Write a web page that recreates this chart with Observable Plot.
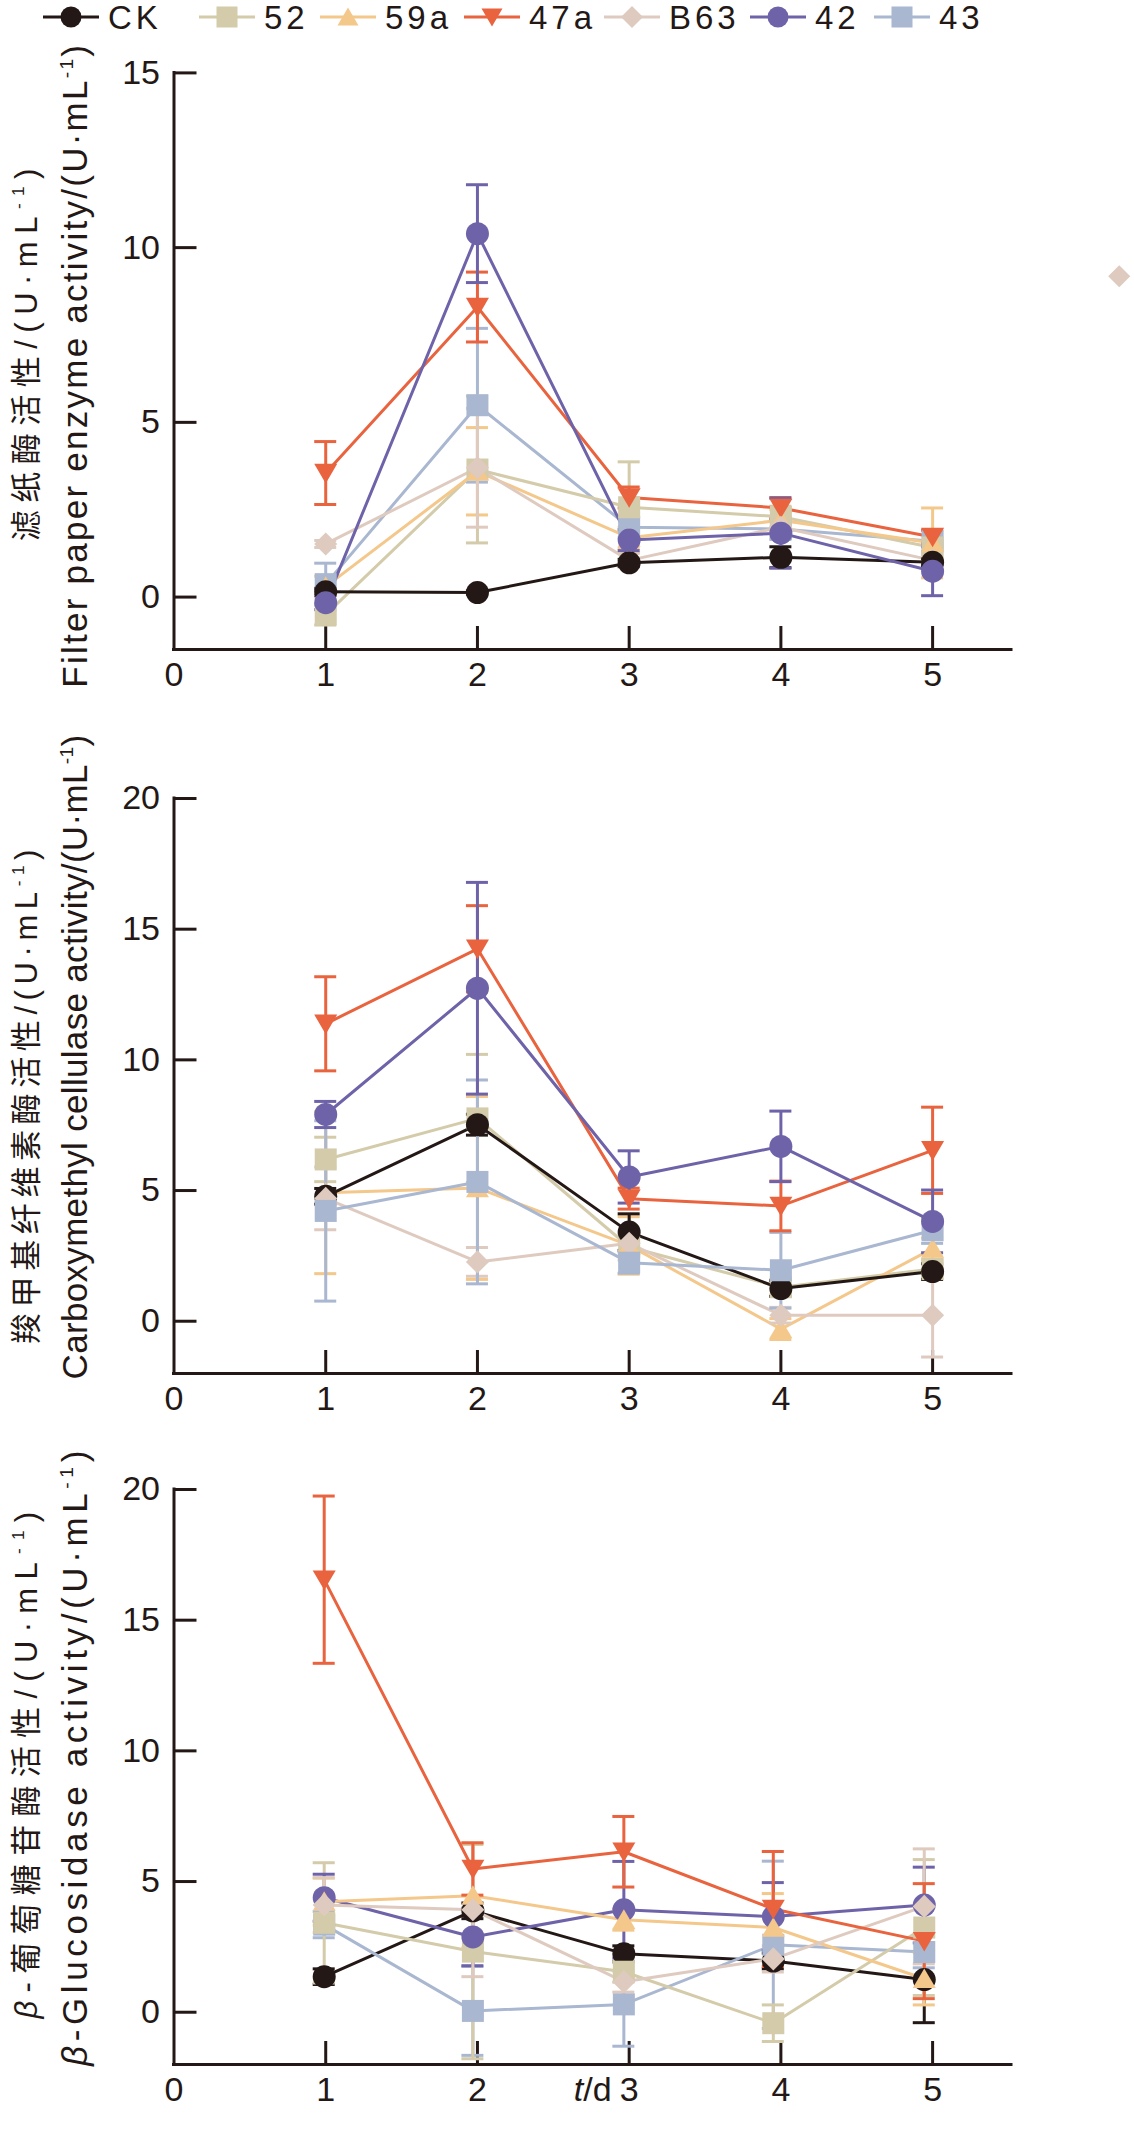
<!DOCTYPE html>
<html>
<head>
<meta charset="utf-8">
<script src="https://cdn.jsdelivr.net/npm/d3@7"></script>
<script src="https://cdn.jsdelivr.net/npm/@observablehq/plot@0.6"></script>
<style>
  html, body { margin: 0; padding: 0; background: #fff; }
  #root { position: relative; width: 1134px; height: 2146px; overflow: hidden; background: #fff; }
  .panel { position: absolute; left: 0; }
  .legend-item { position: absolute; top: 1px; height: 34px; display: flex; align-items: center; }
  .legend-item span { margin-left: 9px; font-size: 33px; line-height: 34px; letter-spacing: 4px; color: #231815; white-space: nowrap; }
</style>
</head>
<body>
<div id="root"></div>
<script>
// ---------------- data ----------------
const seriesNames  = ["CK", "52", "59a", "47a", "B63", "42", "43"];
const seriesColors = ["#231815", "#d3cba9", "#f4c78b", "#e8633e", "#dfcabf", "#6e63a9", "#a9b7d1"];

const days        = [1, 2, 3, 4, 5];
const daysPanel3  = [0.99, 1.97, 2.965, 3.95, 4.945];
const xTicks      = [0, 1, 2, 3, 4, 5];

// Filter paper enzyme activity (rows: CK, 52, 59a, 47a, B63, 42, 43)
const fpaMean = [
  [0.15, 0.13, 0.98, 1.14, 1.00],
  [-0.50, 3.65, 2.57, 2.30, 1.42],
  [0.30, 3.60, 1.70, 2.20, 1.55],
  [3.55, 8.30, 2.85, 2.55, 1.72],
  [1.52, 3.70, 1.05, 2.00, 1.05],
  [-0.16, 10.40, 1.63, 1.83, 0.74],
  [0.37, 5.49, 2.00, 1.95, 1.60]
];
const fpaErr = [
  [0.10, 0.05, 0.10, 0.30, 0.10],
  [0.30, 2.10, 1.30, 0.30, 0.20],
  [0.30, 1.25, 0.30, 0.30, 1.00],
  [0.90, 1.00, 0.30, 0.30, 0.20],
  [0.10, 1.70, 0.20, 0.30, 0.20],
  [0.20, 1.40, 0.30, 1.00, 0.70],
  [0.60, 2.20, 0.30, 0.30, 0.30]
];
const fpaStrayB63 = [{x: 6.23, y: 9.18}];
const fpaTicks = [0, 5, 10, 15];
const fpaDomain = [-1.5, 15];

// Carboxymethyl cellulase activity
const cmcMean = [
  [4.78, 7.52, 3.41, 1.25, 1.90],
  [6.19, 7.76, 2.84, 1.30, 2.00],
  [4.92, 5.10, 2.90, -0.30, 2.78],
  [11.38, 14.25, 4.69, 4.41, 6.54],
  [4.70, 2.27, 2.98, 0.23, 0.23],
  [7.91, 12.74, 5.52, 6.69, 3.82],
  [4.22, 5.33, 2.24, 1.95, 3.48]
];
const cmcErr = [
  [0.30, 0.40, 0.70, 0.30, 0.30],
  [0.85, 2.45, 0.50, 0.30, 0.30],
  [3.10, 3.50, 1.10, 0.40, 0.40],
  [1.80, 1.65, 0.40, 0.95, 1.65],
  [1.20, 0.55, 0.30, 0.30, 1.60],
  [0.50, 4.05, 1.00, 1.35, 1.20],
  [3.45, 3.90, 0.40, 1.45, 0.50]
];
const cmcTicks = [0, 5, 10, 15, 20];
const cmcDomain = [-2, 20];

// beta-Glucosidase activity
const bgMean = [
  [1.36, 3.88, 2.24, 1.96, 1.25],
  [3.42, 2.32, 1.55, -0.42, 3.24],
  [4.23, 4.46, 3.54, 3.24, 1.28],
  [16.55, 5.48, 6.14, 3.95, 2.72],
  [4.10, 3.92, 1.17, 2.04, 4.05],
  [4.38, 2.88, 3.92, 3.66, 4.10],
  [3.35, 0.05, 0.30, 2.58, 2.30]
];
const bgErr = [
  [0.30, 0.30, 0.30, 0.30, 1.65],
  [2.30, 4.10, 0.40, 0.70, 2.60],
  [0.90, 2.00, 0.40, 1.30, 1.00],
  [3.20, 1.00, 1.35, 2.20, 2.20],
  [1.05, 2.56, 0.40, 0.50, 2.20],
  [0.90, 1.10, 1.85, 1.30, 1.45],
  [0.50, 1.70, 1.60, 3.20, 0.60]
];
const bgTicks = [0, 5, 10, 15, 20];
const bgDomain = [-2, 20];

// ---------------- styles ----------------
const ink = "#231815";
const FONT = "'Liberation Sans', Arial, Helvetica, 'Noto Sans CJK SC', sans-serif";
const xDomain = [0, 5.52];

const symSquare = {draw(ctx, size) { const a = Math.sqrt(size / Math.PI); ctx.moveTo(-a, -a); ctx.lineTo(a, -a); ctx.lineTo(a, a); ctx.lineTo(-a, a); ctx.closePath(); }};
const symTriUp = {draw(ctx, size) { const a = Math.sqrt(size / Math.PI); ctx.moveTo(0, -0.9 * a); ctx.lineTo(a, 0.8 * a); ctx.lineTo(-a, 0.8 * a); ctx.closePath(); }};
const symTriDown = {draw(ctx, size) { const a = Math.sqrt(size / Math.PI); ctx.moveTo(0, 0.9 * a); ctx.lineTo(a, -0.8 * a); ctx.lineTo(-a, -0.8 * a); ctx.closePath(); }};
const symDiamond = {draw(ctx, size) { const a = 1.05 * Math.sqrt(size / Math.PI); ctx.moveTo(0, -a); ctx.lineTo(a, 0); ctx.lineTo(0, a); ctx.lineTo(-a, 0); ctx.closePath(); }};
const seriesSymbols = [d3.symbolCircle, symSquare, symTriUp, symTriDown, symDiamond, d3.symbolCircle, symSquare];
const seriesR = [11.5, 11, 11.5, 11.5, 11, 11.5, 11];

const labelTargetLength = new Map();

function makePanel(cfg) {
  const rows = seriesNames.map((name, s) => cfg.xs.map((x, i) => ({name, x, y: cfg.mean[s][i], e: cfg.err[s][i]})));
  const [y0, y1] = cfg.yDomain;
  const marks = [
    Plot.ruleY([y0], {x1: xDomain[0], x2: xDomain[1], stroke: ink, strokeWidth: 3, strokeLinecap: "square"}),
    Plot.ruleX([xDomain[0]], {y1: y0, y2: y1, stroke: ink, strokeWidth: 3, strokeLinecap: "square"}),
    Plot.ruleY(cfg.yTicks, {y: d => d, x1: xDomain[0], x2: xDomain[0], insetRight: -23, stroke: ink, strokeWidth: 3}),
    Plot.ruleX(xTicks.filter(d => d > 0), {x: d => d, y1: y0, y2: y0, insetBottom: 23, stroke: ink, strokeWidth: 3}),
    Plot.axisY({ticks: cfg.yTicks, tickSize: 0, tickPadding: 14, label: null, fontSize: 34, tickFormat: d => String(d)}),
    Plot.axisX({ticks: xTicks, tickSize: 0, tickPadding: 12, label: null, fontSize: 34, tickFormat: d => String(d)})
  ];
  cfg.order.forEach(s => {
    const c = seriesColors[s];
    marks.push(Plot.ruleX(rows[s], {x: "x", y1: d => d.y - d.e, y2: d => d.y + d.e, stroke: c, strokeWidth: 3}));
    marks.push(Plot.ruleY(rows[s], {y: d => d.y + d.e, x1: "x", x2: "x", insetLeft: -11, insetRight: -11, stroke: c, strokeWidth: 3}));
    marks.push(Plot.ruleY(rows[s], {y: d => d.y - d.e, x1: "x", x2: "x", insetLeft: -11, insetRight: -11, stroke: c, strokeWidth: 3}));
    marks.push(Plot.line(rows[s], {x: "x", y: "y", stroke: c, strokeWidth: 3}));
  });
  cfg.order.forEach(s => {
    marks.push(Plot.dot(rows[s], {x: "x", y: "y", symbol: seriesSymbols[s], r: seriesR[s], fill: seriesColors[s]}));
  });
  if (cfg.stray) {
    marks.push(Plot.dot(cfg.stray, {x: "x", y: "y", symbol: symDiamond, r: 10.5, fill: seriesColors[4]}));
  }
  labelTargetLength.set(cfg.labelCn, cfg.lenCn);
  labelTargetLength.set(cfg.labelEn, cfg.lenEn);
  marks.push(Plot.text([cfg.labelCn], {text: d => d, frameAnchor: "left", textAnchor: "middle", rotate: -90, dx: -147, dy: cfg.dyCn, fontSize: 31, fill: ink}));
  marks.push(Plot.text([cfg.labelEn], {text: d => d, frameAnchor: "left", textAnchor: "middle", rotate: -90, dx: -98, dy: cfg.dyEn, fontSize: 35, fill: ink}));
  if (cfg.xLabel) {
    marks.push(Plot.text([cfg.xLabel], {text: d => d, frameAnchor: "bottom", lineAnchor: "top", dy: 12, fontSize: 34, fill: ink}));
  }
  const svg = Plot.plot({
    width: 1134,
    height: cfg.height,
    marginLeft: 173.5,
    marginRight: 123,
    marginTop: cfg.marginTop,
    marginBottom: cfg.marginBottom,
    x: {domain: xDomain},
    y: {domain: cfg.yDomain},
    style: {fontFamily: FONT, fontSize: "34px", color: ink, background: "none", overflow: "visible"},
    marks
  });
  svg.classList.add("panel");
  svg.style.top = cfg.top + "px";
  return svg;
}

// italic symbols, superscript exponent, and fitted letter-spacing for the axis titles
function richText(svg) {
  d3.select(svg).selectAll("text").each(function () {
    const t = this.textContent;
    const sup = t.indexOf("⁻¹");
    const beta = t.startsWith("β");
    const td = t === "t/d";
    if (sup < 0 && !beta && !td) return;
    const fs = parseFloat(getComputedStyle(this).fontSize) || 30;
    const el = d3.select(this);
    el.text(null);
    if (td) {
      el.append("tspan").attr("font-style", "italic").text("t");
      el.append("tspan").text("/d");
      return;
    }
    let rest = t;
    if (beta) { el.append("tspan").attr("font-style", "italic").text("β"); rest = rest.slice(1); }
    const i = rest.indexOf("⁻¹");
    if (i >= 0) {
      el.append("tspan").text(rest.slice(0, i));
      el.append("tspan").attr("font-size", fs * 0.55).attr("dy", -fs * 0.42).text("-1");
      el.append("tspan").attr("dy", fs * 0.42).text(rest.slice(i + 2));
    } else {
      el.append("tspan").text(rest);
    }
    const target = labelTargetLength.get(t);
    if (target) {
      const len = this.getComputedTextLength();
      const n = this.getNumberOfChars();
      const ls = (target - len) / n;
      this.style.letterSpacing = ls.toFixed(2) + "px";
    }
  });
}

const root = document.getElementById("root");

// legend
const legendX = [43, 199, 320, 464, 604, 750, 874];
seriesNames.forEach((name, s) => {
  const item = d3.select(root).append("div").attr("class", "legend-item").style("left", legendX[s] + "px").style("font-family", FONT);
  const sv = item.append("svg").attr("width", 56).attr("height", 34);
  sv.append("line").attr("x1", 0).attr("x2", 56).attr("y1", 16).attr("y2", 16).attr("stroke", seriesColors[s]).attr("stroke-width", 3);
  const p = d3.path();
  seriesSymbols[s].draw(p, Math.PI * 10.5 * 10.5);
  sv.append("path").attr("transform", "translate(28,16)").attr("d", p.toString()).attr("fill", seriesColors[s]);
  item.append("span").text(name);
});

const panels = [
  makePanel({mean: fpaMean, err: fpaErr, xs: days, yDomain: fpaDomain, yTicks: fpaTicks, stray: fpaStrayB63,
    order: [6, 1, 2, 3, 4, 0, 5],
    labelCn: "滤纸酶活性/(U·mL⁻¹)", labelEn: "Filter paper enzyme activity/(U·mL⁻¹)",
    lenCn: 380, lenEn: 645, dyCn: -10, dyEn: 4,
    top: 36, height: 684, marginTop: 36.4, marginBottom: 71}),
  makePanel({mean: cmcMean, err: cmcErr, xs: days, yDomain: cmcDomain, yTicks: cmcTicks,
    order: [1, 2, 0, 4, 6, 3, 5],
    labelCn: "羧甲基纤维素酶活性/(U·mL⁻¹)", labelEn: "Carboxymethyl cellulase activity/(U·mL⁻¹)",
    lenCn: 500, lenEn: 645, dyCn: 8, dyEn: -29,
    top: 720, height: 710, marginTop: 78, marginBottom: 57}),
  makePanel({mean: bgMean, err: bgErr, xs: daysPanel3, yDomain: bgDomain, yTicks: bgTicks,
    order: [0, 6, 1, 5, 2, 4, 3],
    labelCn: "β-葡萄糖苷酶活性/(U·mL⁻¹)", labelEn: "β-Glucosidase activity/(U·mL⁻¹)",
    lenCn: 515, lenEn: 620, dyCn: -16, dyEn: -21, xLabel: "t/d",
    top: 1430, height: 716, marginTop: 59, marginBottom: 82})
];
panels.forEach(svg => { root.appendChild(svg); richText(svg); });
</script>
</body>
</html>
